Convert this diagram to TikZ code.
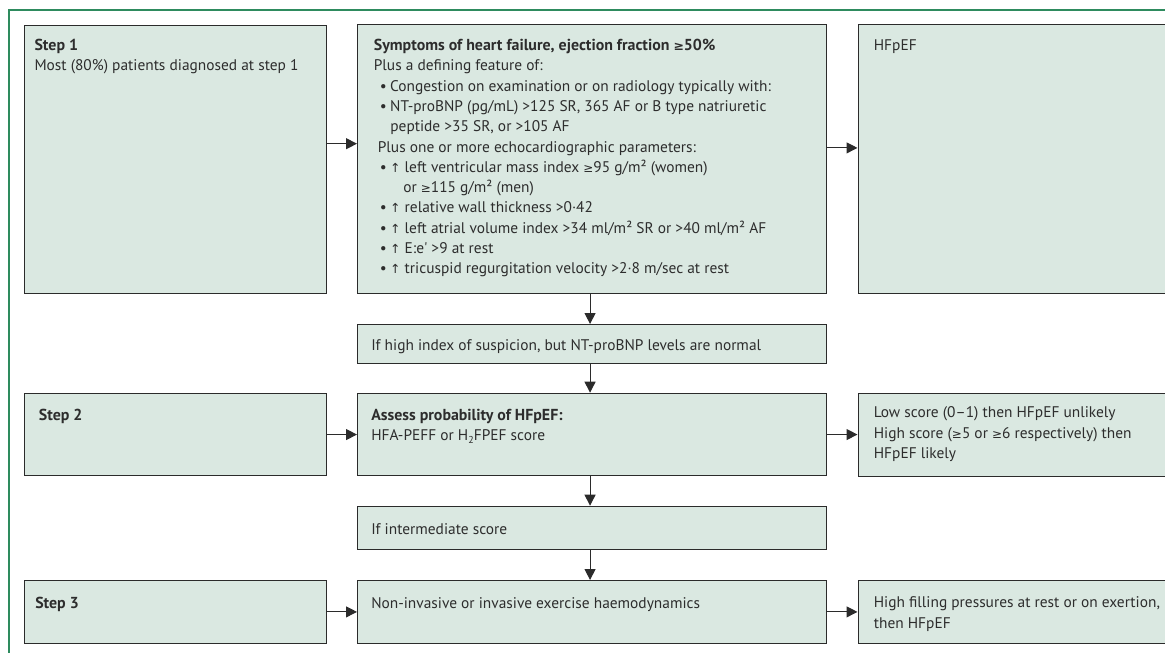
\documentclass[tikz,border=0pt]{standalone}
\usepackage{fontspec}
\setmainfont{PT Sans}[Ligatures=TeXOff]
\newfontfamily\symf{DejaVu Sans}
\usetikzlibrary{arrows.meta}
\definecolor{boxfill}{HTML}{DAE8E1}
\definecolor{boxline}{HTML}{2B2B2B}
\definecolor{frameg}{HTML}{2E8B5E}
\definecolor{txt}{HTML}{2D2D2D}
\newcommand\bt[5]{\hbox to #1{\hspace*{#3}\parbox[t][#2][t]{\dimexpr#1-#3\relax}{\vspace*{\dimexpr#4-\ht\strutbox\relax}\strut#5}\hss}}
\newcommand\bul{\makebox[10.3pt][l]{•}}
\newcommand\up{{\symf\fontsize{12.5}{12.5}\selectfont ↑}}
\newcommand\gee{{\symf\fontsize{12}{12}\selectfont ≥}}
\newcommand\sub[1]{\raisebox{-3pt}{\fontsize{10}{10}\selectfont #1}}
\newcommand\hb[1]{{\fontsize{15.9}{20.3}\selectfont\bfseries #1}}
\begin{document}
\begin{tikzpicture}[x=1pt,y=-1pt,
  box/.style={draw=boxline, line width=1.1pt, fill=boxfill, inner sep=0pt, anchor=north west, font=\fontsize{15.4}{20.3}\selectfont, text=txt},
  arr/.style={draw=boxline, line width=1.1pt, -{Triangle[length=11pt,width=11pt]}}]
\useasboundingbox (0,0) rectangle (1165,653);
\draw[frameg, line width=1.2pt] (9,660) -- (9,10) -- (1170,10);

\node[box] (s1) at (23.7,25) {\bt{302pt}{268.3pt}{10.3pt}{25pt}{\hb{Step 1}\\Most (80\%) patients diagnosed at step 1}};
\node[box] (m1) at (357,24) {\bt{469pt}{268.7pt}{16.3pt}{26pt}{\hb{Symptoms of heart failure, ejection fraction {\symf\bfseries\fontsize{12.5}{12.5}\selectfont ≥}50\%}\\
Plus a defining feature of:\\
\hspace*{6pt}\bul Congestion on examination or on radiology typically with:\\
\hspace*{6pt}\bul NT-proBNP (pg/mL) >125 SR, 365 AF or B type natriuretic\\
\hspace*{16.5pt}peptide >35 SR, or >105 AF\\
\hspace*{4pt}Plus one or more echocardiographic parameters:\\
\hspace*{6pt}\bul\up\ left ventricular mass index \gee95 g/m² (women)\\
\hspace*{29.4pt}or \gee115 g/m² (men)\\
\hspace*{6pt}\bul\up\ relative wall thickness >0·42\\
\hspace*{6pt}\bul\up\ left atrial volume index >34 ml/m² SR or >40 ml/m² AF\\
\hspace*{6pt}\bul\up\ E:e' >9 at rest\\
\hspace*{6pt}\bul\up\ tricuspid regurgitation velocity >2·8 m/sec at rest}};
\node[box] (h1) at (857.5,24) {\bt{320pt}{268.7pt}{15.8pt}{26pt}{HFpEF}};
\node[box] (ifh) at (357,324) {\bt{469pt}{38.7pt}{13.7pt}{26pt}{If high index of suspicion, but NT-proBNP levels are normal}};
\node[box] (s2) at (23.7,392.7) {\bt{302pt}{82.6pt}{14.6pt}{27.3pt}{\hb{Step 2}}};
\node[box] (a2) at (357,392.7) {\bt{469pt}{82.6pt}{13.7pt}{27.3pt}{\hb{Assess probability of HFpEF:}\\HFA-PEFF or H\sub{2}FPEF score}};
\node[box] (lo) at (857.5,392.7) {\bt{320pt}{83.3pt}{15.8pt}{24.6pt}{Low score (0–1) then HFpEF unlikely\\High score (\gee5 or \gee6 respectively) then\\HFpEF likely}};
\node[box] (ifi) at (357,505.7) {\bt{469pt}{43.6pt}{13.7pt}{28.3pt}{If intermediate score}};
\node[box] (s3) at (23.7,580) {\bt{302pt}{62.7pt}{11pt}{28pt}{\hb{Step 3}}};
\node[box] (n3) at (357,580) {\bt{469pt}{62.7pt}{13.7pt}{28pt}{Non-invasive or invasive exercise haemodynamics}};
\node[box] (hf) at (857.5,580) {\bt{320pt}{63pt}{15.8pt}{27.3pt}{High filling pressures at rest or on exertion,\\then HFpEF}};

\draw[arr] ([yshift=16pt]s1.east) -- ([yshift=16pt]s1.east -| m1.west);
\draw[arr] ([yshift=11pt]m1.east) -- ([yshift=11pt]m1.east -| h1.west);
\draw[arr] ([xshift=-2pt]m1.south) -- ([xshift=-2pt]m1.south |- ifh.north);
\draw[arr] ([xshift=-2pt]ifh.south) -- ([xshift=-2pt]ifh.south |- a2.north);
\draw[arr] ([xshift=-2pt]a2.south) -- ([xshift=-2pt]a2.south |- ifi.north);
\draw[arr] ([xshift=-2pt]ifi.south) -- ([xshift=-2pt]ifi.south |- n3.north);
\draw[arr] (s2.east) -- (s2.east -| a2.west);
\draw[arr] (a2.east) -- (a2.east -| lo.west);
\draw[arr] (s3.east) -- (s3.east -| n3.west);
\draw[arr] (n3.east) -- (n3.east -| hf.west);
\end{tikzpicture}
\end{document}
